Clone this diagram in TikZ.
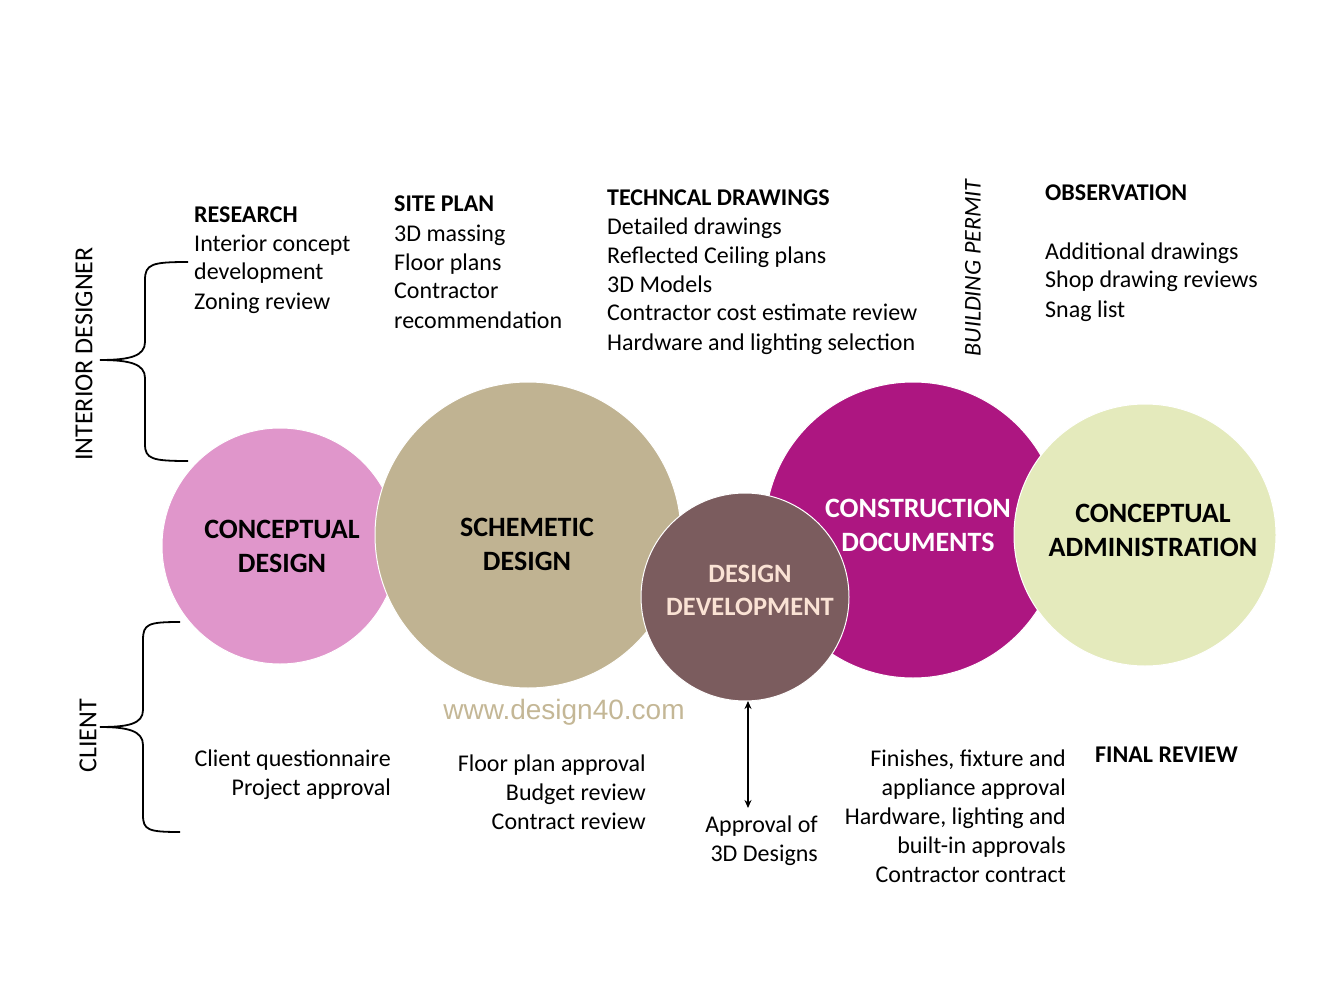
\documentclass[tikz,border=0pt]{standalone}
\usepackage{fontspec}
\setmainfont{Carlito}
\newfontfamily\webfont{Liberation Sans}
\usetikzlibrary{arrows.meta}
\tikzset{>=Stealth}
\definecolor{cdpink}{RGB}{224,150,203}
\definecolor{sdtan}{RGB}{192,179,146}
\definecolor{cnmag}{RGB}{173,22,129}
\definecolor{cagreen}{RGB}{228,234,188}
\definecolor{ddbrown}{RGB}{123,92,94}
\definecolor{ddtext}{RGB}{250,226,212}
\definecolor{webtan}{RGB}{196,183,150}
\tikzset{
  phase/.style={circle,draw=white,line width=1pt,inner sep=0pt,align=center,
    font=\fontsize{28}{34}\selectfont\bfseries},
  body/.style={inner sep=0pt,font=\fontsize{24}{29}\selectfont},
  side/.style={inner sep=0pt,rotate=90,font=\fontsize{26}{30}\selectfont},
  brace/.style={line width=1.8pt}
}

\begin{document}
\begin{tikzpicture}[x=1pt,y=-1pt]
\useasboundingbox (0,0) rectangle (1344,1008);
% phases
\node[phase,fill=cdpink,minimum size=236pt] (cd) at (280,546) {};
\node[phase,fill=sdtan,minimum size=306pt] (sd) at (528,535) {};
\node[phase,fill=cnmag,minimum size=296pt] (cn) at (913,530) {};
\node[phase,fill=cagreen,minimum size=262pt] (ca) at (1145,535) {};
\node[phase,fill=ddbrown,minimum size=208pt] (dd) at (745,597) {};
\node[phase,draw=none] at (282,546) {CONCEPTUAL\\DESIGN};
\node[phase,draw=none] at (527,544) {SCHEMETIC\\DESIGN};
\node[phase,draw=none,text=white] at (918,525) {CONSTRUCTION\\DOCUMENTS};
\node[phase,draw=none] at (1153,530) {CONCEPTUAL\\ADMINISTRATION};
\node[phase,draw=none,text=ddtext,font=\fontsize{26.5}{33}\selectfont\bfseries] at (750,590) {DESIGN\\DEVELOPMENT};

% interior designer tasks
\node[body,anchor=base west,align=left] (res) at (194,309)
  {\textbf{RESEARCH}\\Interior concept\\development\\Zoning review};
\node[body,anchor=base west,align=left] (site) at (394,328)
  {\textbf{SITE PLAN}\\3D massing\\Floor plans\\Contractor\\recommendation};
\node[body,anchor=base west,align=left] (tech) at (607,350)
  {\textbf{TECHNCAL DRAWINGS}\\Detailed drawings\\Reflected Ceiling plans\\3D Models\\Contractor cost estimate review\\Hardware and lighting selection};
\node[body,anchor=base west,align=left] (obs) at (1045,317)
  {\textbf{OBSERVATION}\\[29pt]Additional drawings\\Shop drawing reviews\\Snag list};
\node[body,rotate=90,font=\fontsize{24}{28}\selectfont\itshape] (permit) at (973,268) {BUILDING PERMIT};

% client tasks
\node[body,anchor=base east,align=right] (quest) at (391,795)
  {Client questionnaire\\Project approval};
\node[body,anchor=base east,align=right] (fpa) at (646,829)
  {Floor plan approval\\Budget review\\Contract review};
\node[body,anchor=base east,align=right] (appr) at (818,861)
  {Approval of\\3D Designs};
\node[body,anchor=base east,align=right] (fin) at (1066,882)
  {Finishes, fixture and\\appliance approval\\Hardware, lighting and\\built-in approvals\\Contractor contract};
\node[body,anchor=base west] (final) at (1095,762) {\textbf{FINAL REVIEW}};

\node[text=webtan,font=\webfont\fontsize{28}{32}\selectfont] (web) at (564,712) {www.design40.com};

% sides
\node[side] (idlab) at (84,354) {INTERIOR DESIGNER};
\node[side] (cllab) at (88,736) {CLIENT};
\draw[brace] (188,262) .. controls (152,262) and (145,264) .. (145,280) -- (145,342)
  .. controls (145,356) and (130,360) .. (100,360)
  .. controls (130,360) and (145,364) .. (145,378) -- (145,444)
  .. controls (145,459) and (152,461) .. (188,461);
\draw[brace] (180,622) .. controls (148,622) and (143,624) .. (143,640) -- (143,710)
  .. controls (143,724) and (128,727) .. (100,727)
  .. controls (128,727) and (143,731) .. (143,745) -- (143,815)
  .. controls (143,830) and (148,832) .. (180,832);

% approval arrow
\coordinate (arrtop) at (748,701);
\coordinate (arrbot) at (748,808);
\draw[line width=2.5pt,{Stealth[length=8pt,width=7pt]}-{Stealth[length=8pt,width=7pt]}] (arrtop) -- (arrbot);
\end{tikzpicture}
\end{document}
